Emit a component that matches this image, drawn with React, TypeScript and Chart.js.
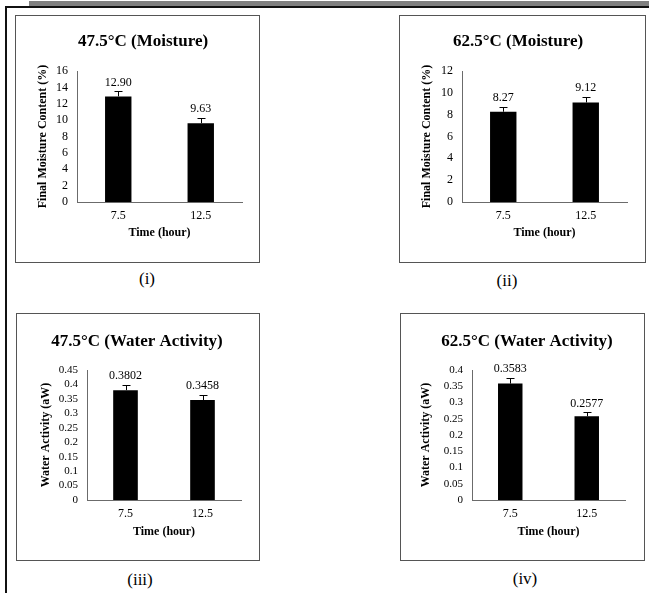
import React, { useEffect, useRef } from "react";
import { Chart, registerables } from "chart.js";

Chart.register(...registerables);

// ---------- data ----------
const categories = ["7.5", "12.5"];

const moisture475 = [12.9, 9.63];
const moisture475Err = [0.6, 0.6];
const moisture625 = [8.27, 9.12];
const moisture625Err = [0.45, 0.5];

const water475 = [0.3802, 0.3458];
const water475Err = [0.017, 0.017];
const water625 = [0.3583, 0.2577];
const water625Err = [0.018, 0.012];

const moisture475Ticks = ["0", "2", "4", "6", "8", "10", "12", "14", "16"];
const moisture625Ticks = ["0", "2", "4", "6", "8", "10", "12"];
const water475Ticks = ["0", "0.05", "0.1", "0.15", "0.2", "0.25", "0.3", "0.35", "0.4", "0.45"];
const water625Ticks = ["0", "0.05", "0.1", "0.15", "0.2", "0.25", "0.3", "0.35", "0.4"];

const titles = [
  "47.5°C (Moisture)",
  "62.5°C (Moisture)",
  "47.5°C (Water Activity)",
  "62.5°C (Water Activity)",
];
const panelLabels = ["(i)", "(ii)", "(iii)", "(iv)"];
const xTitle = "Time (hour)";
const moistureYTitle = "Final Moisture Content (%)";
const waterYTitle = "Water Activity (aW)";

const FONT = "'Liberation Serif', 'Times New Roman', Times, serif";

// ---------- layout ----------
type Geom = {
  boxL: number; boxT: number; boxW: number; boxH: number;
  cL: number; cT: number; cW: number; cH: number;
  yAxisW: number; rightW: number;
  tPadTop: number; tPadBottom: number;
  xAxisH: number; xTitlePad: number; yTitlePad: number;
  labX: number; labY: number;
};

type Panel = {
  title: string;
  label: string;
  values: number[];
  errors: number[];
  ticks: string[];
  max: number;
  step: number;
  decimals: number;
  tickSize: number;
  yTitle: string;
  g: Geom;
};

const panels: Panel[] = [
  {
    title: titles[0], label: panelLabels[0], values: moisture475, errors: moisture475Err,
    ticks: moisture475Ticks, max: 16, step: 2, decimals: 2, tickSize: 12, yTitle: moistureYTitle,
    g: { boxL: 15, boxT: 15, boxW: 245, boxH: 248, cL: 16, cT: 16, cW: 254, cH: 246,
      yAxisW: 61, rightW: 28, tPadTop: 15.8, tPadBottom: 18.8, xAxisH: 60, xTitlePad: 21.8,
      yTitlePad: 19.8, labX: 147, labY: 278 },
  },
  {
    title: titles[1], label: panelLabels[1], values: moisture625, errors: moisture625Err,
    ticks: moisture625Ticks, max: 12, step: 2, decimals: 2, tickSize: 12, yTitle: moistureYTitle,
    g: { boxL: 399, boxT: 15, boxW: 247, boxH: 248, cL: 400, cT: 16, cW: 236, cH: 246,
      yAxisW: 62, rightW: 9, tPadTop: 15.8, tPadBottom: 18.8, xAxisH: 60, xTitlePad: 21.8,
      yTitlePad: 19.8, labX: 507, labY: 280 },
  },
  {
    title: titles[2], label: panelLabels[2], values: water475, errors: water475Err,
    ticks: water475Ticks, max: 0.45, step: 0.05, decimals: 4, tickSize: 11, yTitle: waterYTitle,
    g: { boxL: 16, boxT: 313, boxW: 244, boxH: 248, cL: 17, cT: 314, cW: 240, cH: 246,
      yAxisW: 70, rightW: 16, tPadTop: 17.8, tPadBottom: 17.8, xAxisH: 60, xTitlePad: 20.8,
      yTitlePad: 21.8, labX: 140, labY: 579 },
  },
  {
    title: titles[3], label: panelLabels[3], values: water625, errors: water625Err,
    ticks: water625Ticks, max: 0.4, step: 0.05, decimals: 4, tickSize: 11, yTitle: waterYTitle,
    g: { boxL: 400, boxT: 313, boxW: 245, boxH: 248, cL: 405, cT: 314, cW: 244, cH: 246,
      yAxisW: 67, rightW: 24, tPadTop: 17.8, tPadBottom: 17.8, xAxisH: 60, xTitlePad: 20.8,
      yTitlePad: 13.8, labX: 525, labY: 578 },
  },
];

// error bars + value labels
const errorBarPlugin = {
  id: "errorBars",
  afterDatasetsDraw(chart: any, _args: any, opts: any) {
    const meta = chart.getDatasetMeta(0);
    const yScale = chart.scales.y;
    const ctx = chart.ctx;
    const data = chart.data.datasets[0].data as number[];
    const errs: number[] = opts.errors || [];
    ctx.save();
    meta.data.forEach((bar: any, i: number) => {
      const v = data[i];
      const top = yScale.getPixelForValue(v + (errs[i] || 0));
      const x = Math.round(bar.x) + 0.5;
      const ty = Math.round(top) + 0.5;
      ctx.strokeStyle = "#000";
      ctx.lineWidth = 1;
      ctx.beginPath();
      ctx.moveTo(x, bar.y);
      ctx.lineTo(x, ty);
      ctx.moveTo(x - 4, ty);
      ctx.lineTo(x + 4, ty);
      ctx.stroke();
      ctx.fillStyle = "#000";
      ctx.font = `12px ${FONT}`;
      ctx.textAlign = "center";
      ctx.textBaseline = "middle";
      ctx.fillText(v.toFixed(opts.decimals), bar.x, top - 9);
    });
    ctx.restore();
  },
};

function PanelChart({ p }: { p: Panel }) {
  const ref = useRef<HTMLCanvasElement | null>(null);
  useEffect(() => {
    if (!ref.current) return;
    const g = p.g;
    const chart = new Chart(ref.current, {
      type: "bar",
      data: {
        labels: categories,
        datasets: [
          {
            data: p.values,
            backgroundColor: "#000000",
            borderWidth: 0,
            barPercentage: 0.32,
            categoryPercentage: 1,
          },
        ],
      },
      options: {
        responsive: false,
        animation: false,
        devicePixelRatio: 1,
        layout: { padding: 0 },
        plugins: {
          legend: { display: false },
          tooltip: { enabled: false },
          title: {
            display: true,
            text: p.title,
            color: "#000",
            font: { family: FONT, size: 17, weight: "bold", lineHeight: 1.2 },
            padding: { top: g.tPadTop, bottom: g.tPadBottom },
          },
          errorBars: { errors: p.errors, decimals: p.decimals },
        } as any,
        scales: {
          x: {
            grid: { display: false, drawTicks: false },
            border: { display: true, color: "#6b6b6b", width: 1 },
            ticks: { color: "#000", font: { family: FONT, size: 12 }, padding: 7 },
            title: {
              display: true,
              text: xTitle,
              color: "#000",
              font: { family: FONT, size: 12, weight: "bold", lineHeight: 1.2 },
              padding: { top: 0, bottom: g.xTitlePad },
            },
            afterFit: (s: any) => { s.height = g.xAxisH; },
          },
          y: {
            min: 0,
            max: p.max,
            grid: { display: false, drawTicks: false },
            border: { display: true, color: "#6b6b6b", width: 1 },
            ticks: {
              stepSize: p.step,
              autoSkip: false,
              color: "#000",
              font: { family: FONT, size: p.tickSize },
              padding: 9,
              callback: (_v: any, i: number) => p.ticks[i],
            },
            title: {
              display: true,
              text: p.yTitle,
              color: "#000",
              font: { family: FONT, size: 12, weight: "bold", lineHeight: 1.2 },
              padding: { top: g.yTitlePad, bottom: 0 },
            },
            afterFit: (s: any) => { s.width = g.yAxisW; },
          },
          pad: {
            type: "linear",
            position: "right",
            display: true,
            grid: { display: false, drawTicks: false },
            border: { display: false },
            ticks: { display: false },
            afterFit: (s: any) => { s.width = g.rightW; },
          },
        } as any,
      },
      plugins: [errorBarPlugin],
    });
    return () => chart.destroy();
  }, [p]);
  const g = p.g;
  return (
    <canvas
      ref={ref}
      width={g.cW}
      height={g.cH}
      style={{ position: "absolute", left: g.cL, top: g.cT, width: g.cW, height: g.cH }}
    />
  );
}

export default function App() {
  return (
    <div
      style={{
        position: "absolute",
        left: 0,
        top: 0,
        width: 649,
        height: 593,
        overflow: "hidden",
        background: "#fff",
      }}
    >
      <div style={{ position: "absolute", left: 29, top: 1, width: 620, height: 5, background: "#808080" }} />
      <div style={{ position: "absolute", left: 5, top: 6, width: 644, height: 2, background: "#111" }} />
      <div style={{ position: "absolute", left: 5, top: 6, width: 2, height: 587, background: "#111" }} />
      {panels.map((p, i) => (
        <React.Fragment key={i}>
          <div
            style={{
              position: "absolute",
              left: p.g.boxL,
              top: p.g.boxT,
              width: p.g.boxW,
              height: p.g.boxH,
              border: "1px solid #555",
              boxSizing: "border-box",
            }}
          />
          <PanelChart p={p} />
          <div
            style={{
              position: "absolute",
              left: p.g.labX,
              top: p.g.labY,
              transform: "translate(-50%, -50%)",
              fontFamily: FONT,
              fontSize: 17,
              lineHeight: 1,
              color: "#000",
              whiteSpace: "nowrap",
            }}
          >
            {p.label}
          </div>
        </React.Fragment>
      ))}
    </div>
  );
}
